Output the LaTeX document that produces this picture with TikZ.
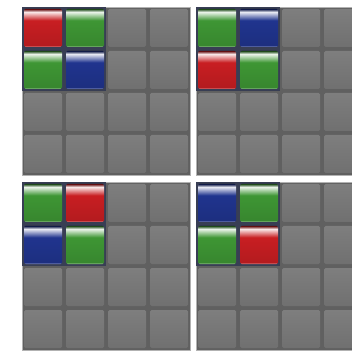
\documentclass[tikz,border=0pt]{standalone}
\usetikzlibrary{positioning}
\definecolor{bayer_red}{RGB}{200,30,34}
\definecolor{bayer_green}{RGB}{62,150,52}
\definecolor{bayer_blue}{RGB}{32,52,142}
\definecolor{panel_gray}{RGB}{96,96,96}
\definecolor{tile_top}{RGB}{126,126,126}
\definecolor{tile_bot}{RGB}{112,112,112}
\definecolor{block_edge}{RGB}{56,62,84}

% glossy vertical shadings (inner 25bp--75bp fills the tile)
\pgfdeclareverticalshading{tileR}{100bp}{color(0bp)=(bayer_red);
  color(25bp)=(bayer_red!55!white); color(27.5bp)=(bayer_red!90!black);
  color(60bp)=(bayer_red); color(68bp)=(bayer_red!35!white);
  color(71bp)=(bayer_red!10!white); color(75bp)=(bayer_red!50!black); color(100bp)=(bayer_red)}
\pgfdeclareverticalshading{tileG}{100bp}{color(0bp)=(bayer_green);
  color(25bp)=(bayer_green!55!white); color(27.5bp)=(bayer_green!90!black);
  color(60bp)=(bayer_green); color(68bp)=(bayer_green!35!white);
  color(71bp)=(bayer_green!10!white); color(75bp)=(bayer_green!50!black); color(100bp)=(bayer_green)}
\pgfdeclareverticalshading{tileB}{100bp}{color(0bp)=(bayer_blue);
  color(25bp)=(bayer_blue!55!white); color(27.5bp)=(bayer_blue!90!black);
  color(60bp)=(bayer_blue); color(68bp)=(bayer_blue!35!white);
  color(71bp)=(bayer_blue!10!white); color(75bp)=(bayer_blue!50!black); color(100bp)=(bayer_blue)}

\tikzset{
  panel/.style={fill=panel_gray, draw=black!30, line width=0.8pt},
  graytile/.style={top color=tile_top, bottom color=tile_bot, rounded corners=1.5pt},
  colortile/.style={shading=tile#1, rounded corners=1.5pt}
}

\begin{document}
\begin{tikzpicture}[x=1pt, y=1pt]
  \useasboundingbox (0,0) rectangle (352,350);
  \fill[white] (0,0) rectangle (352,350);
  \clip (0,0) rectangle (352,350);
  % four Bayer panels: corner / top-left, top-right, bottom-left, bottom-right colour
  \foreach \px/\py/\ca/\cb/\cc/\cd in {
    22/175/R/G/G/B,
    196/175/G/B/R/G,
    22/0/G/R/B/G,
    196/0/B/G/G/R}{
    \draw[panel] (\px,\py) rectangle ++(168,168);
    \foreach \i in {0,...,3}
      \foreach \j in {0,...,3}
        \shade[graytile] ({\px+2+42*\i},{\py+2+42*\j}) rectangle ++(38,38);
    \fill[block_edge] ({\px+0.4},{\py+84}) rectangle ({\px+84},{\py+167.6});
    \shade[colortile=\ca] ({\px+2},{\py+128}) rectangle ++(38,38);
    \shade[colortile=\cb] ({\px+44},{\py+128}) rectangle ++(38,38);
    \shade[colortile=\cc] ({\px+2},{\py+86}) rectangle ++(38,38);
    \shade[colortile=\cd] ({\px+44},{\py+86}) rectangle ++(38,38);
  }
\end{tikzpicture}
\end{document}
